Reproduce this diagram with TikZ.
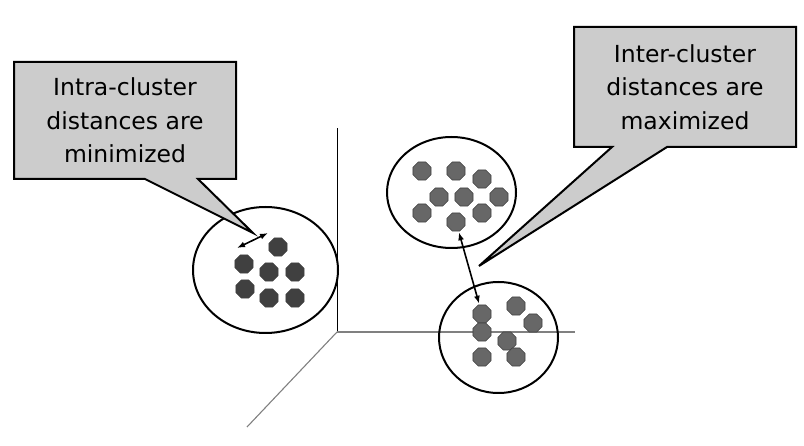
\documentclass[tikz,border=0pt]{standalone}
\usepackage{fontspec}
\setmainfont{DejaVu Sans}
\usetikzlibrary{arrows.meta,shapes.geometric}
\definecolor{boxgray}{HTML}{CCCCCC}
\definecolor{darkpt}{HTML}{404040}
\definecolor{midpt}{HTML}{676767}
\definecolor{axisgray}{HTML}{808080}

\begin{document}
\begin{tikzpicture}[x=1pt,y=-1pt,
    pt/.style={regular polygon,regular polygon sides=8,minimum size=19.5pt,
        inner sep=0pt,draw=black!75,line width=0.6pt},
    cluster/.style={ellipse,draw,line width=2pt,inner sep=0pt},
    callout/.style={fill=boxgray,draw,line width=2pt,line join=miter},
    callouttext/.style={font=\fontsize{23.5}{33.5}\selectfont,align=center},
    dist/.style={{Latex[length=8pt,width=6pt]}-{Latex[length=8pt,width=6pt]},line width=1.6pt}]
    \useasboundingbox (0,0) rectangle (804,446);

    % Axes
    \coordinate (origin) at (337,332);
    \coordinate (ytop) at (337,128);
    \coordinate (xend) at (575,332);
    \coordinate (zend) at (247,427);
    \draw[line width=0.9pt] (origin) -- (ytop);
    \draw[axisgray,line width=1.1pt] (origin) -- (xend);
    \draw[axisgray,line width=1.1pt] (origin) -- (zend);

    % Clusters
    \node[cluster,minimum width=145pt,minimum height=126pt] (cleft) at (265.5,270) {};
    \node[cluster,minimum width=129pt,minimum height=111pt] (cup) at (451.5,192.5) {};
    \node[cluster,minimum width=119pt,minimum height=111pt] (clow) at (498.5,337.5) {};

    % Points, left cluster
    \foreach \n/\x/\y in {a1/278/247,a2/244/264,a3/269/272,a4/295/272,
                          a5/245/289,a6/269/298,a7/295/298}
        \node[pt,fill=darkpt] (\n) at (\x,\y) {};

    % Points, upper cluster
    \foreach \n/\x/\y in {b1/422/171,b2/456/171,b3/482/179,b4/439/197,b5/464/197,
                          b6/499/197,b7/422/213,b8/482/213,b9/456/222}
        \node[pt,fill=midpt] (\n) at (\x,\y) {};

    % Points, lower cluster
    \foreach \n/\x/\y in {d1/482/314,d2/516/306,d3/533/323,d4/482/332,
                          d5/507/341,d6/482/357,d7/516/357}
        \node[pt,fill=midpt] (\n) at (\x,\y) {};

    % Distances
    \coordinate (intraA) at (237,248);
    \coordinate (intraB) at (268,233);
    \draw[dist] (intraA) -- (intraB);
    \draw[dist,shorten <=1pt,shorten >=1pt] (b9) -- (d1);

    % Callouts
    \filldraw[callout] (14,62) -- (236,62) -- (236,179) -- (198,179)
        -- (253,233) -- (145,179) -- (14,179) -- cycle;
    \node[callouttext] (intra) at (125,120.5) {Intra-cluster\\distances are\\minimized};

    \filldraw[callout] (574,27) -- (796,27) -- (796,147) -- (667,147)
        -- (479,266) -- (612,147) -- (574,147) -- cycle;
    \node[callouttext] (inter) at (685,87) {Inter-cluster\\distances are\\maximized};
\end{tikzpicture}
\end{document}
